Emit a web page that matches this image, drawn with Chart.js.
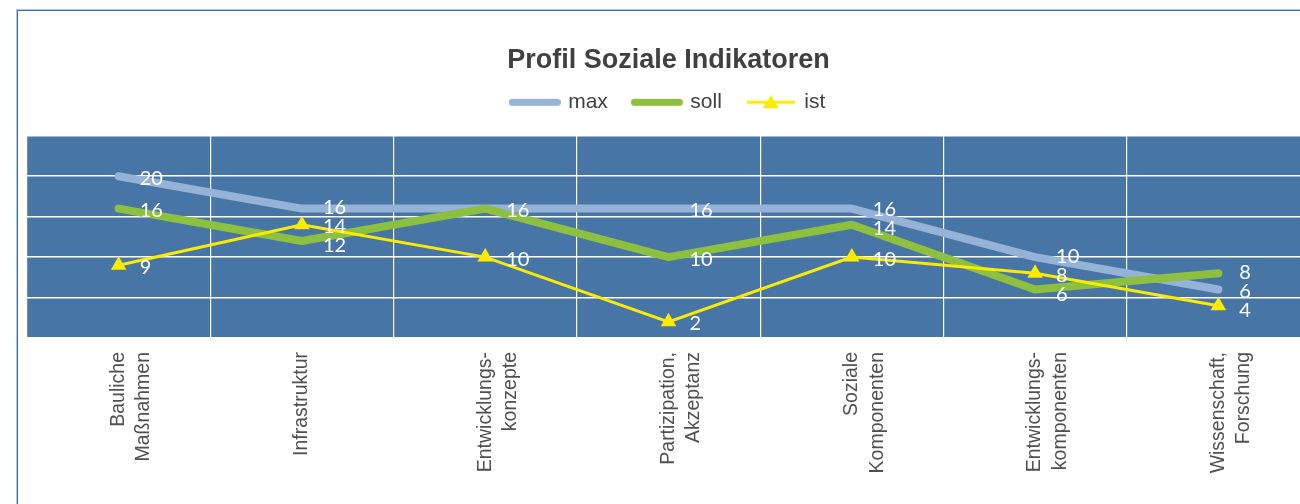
<!DOCTYPE html>
<html>
<head>
<meta charset="utf-8">
<script src="https://cdn.jsdelivr.net/npm/chart.js@4.4.0/dist/chart.umd.min.js"></script>
<style>
  html, body { margin: 0; padding: 0; background: #fff; width: 1300px; height: 504px; overflow: hidden; }
  #frame { position: absolute; left: 16px; top: 9px; width: 1400px; height: 600px; border: 1px solid #b3c8e2; }
  #frame div { position: absolute; inset: 0; border: 1.5px solid #3d6ba3; }
  #chart { position: absolute; left: 0; top: 0; }
</style>
</head>
<body>
<div id="frame"><div></div></div>
<canvas id="chart" width="1330" height="504"></canvas>
<script>
// Profil Soziale Indikatoren – max / soll / ist per indicator group.
const CATEGORIES = [
  ["Bauliche", "Maßnahmen"],
  "Infrastruktur",
  ["Entwicklungs-", "konzepte"],
  ["Partizipation,", "Akzeptanz"],
  ["Soziale", "Komponenten"],
  ["Entwicklungs-", "komponenten"],
  ["Wissenschaft,", "Forschung"],
];
const MAX  = [20, 16, 16, 16, 16, 10, 6];
const SOLL = [16, 12, 16, 10, 14, 6, 8];
const IST  = [9, 14, 10, 2, 10, 8, 4];
const Y_MIN = 0, Y_MAX = 25, Y_STEP = 5;

const C_MAX = "#95b3d7", C_SOLL = "#8cc03e", C_IST = "#fbeb00";
const PLOT_BG = "#4775a5";
const FONT = "'Liberation Sans', Arial, sans-serif";

// Legend swatches: a thick rounded line, or a thin line with a triangle marker.
function swatch(color, w, lw, triangle) {
  const h = triangle ? 14 : lw + 2;
  const c = document.createElement("canvas");
  c.width = w; c.height = h;
  const g = c.getContext("2d");
  g.strokeStyle = color;
  g.lineWidth = lw;
  g.lineCap = triangle ? "butt" : "round";
  g.beginPath();
  g.moveTo(triangle ? 0 : lw / 2, h / 2);
  g.lineTo(triangle ? w : w - lw / 2, h / 2);
  g.stroke();
  if (triangle) {
    g.fillStyle = color;
    g.beginPath();
    g.moveTo(w / 2, 0);
    g.lineTo(w / 2 + 8, 13);
    g.lineTo(w / 2 - 8, 13);
    g.closePath();
    g.fill();
  }
  return c;
}
const SWATCHES = [swatch(C_MAX, 52, 7), swatch(C_SOLL, 52, 7), swatch(C_IST, 48, 3, true)];

const plotBg = {
  id: "plotBg",
  beforeDraw(chart) {
    const { ctx, chartArea: a } = chart;
    ctx.save();
    ctx.fillStyle = PLOT_BG;
    ctx.fillRect(a.left, a.top, a.right - a.left, a.bottom - a.top);
    ctx.restore();
  },
};

// White value labels right of each point; equal values merge, close ones get spread apart.
const valueLabels = {
  id: "valueLabels",
  afterDatasetsDraw(chart) {
    const ctx = chart.ctx;
    const byIndex = [];
    chart.data.datasets.forEach((ds, di) => {
      chart.getDatasetMeta(di).data.forEach((pt, i) => {
        const list = byIndex[i] || (byIndex[i] = []);
        if (list.some((l) => l.v === ds.data[i])) return;
        list.push({ v: ds.data[i], x: pt.x, y: pt.y });
      });
    });
    const MIN_GAP = 19;
    ctx.save();
    ctx.fillStyle = "#ffffff";
    ctx.font = "20px Lato, 'Open Sans', sans-serif";
    ctx.textAlign = "left";
    ctx.textBaseline = "middle";
    byIndex.forEach((list) => {
      list.sort((a, b) => a.y - b.y);
      for (let k = 0; k < 20; k++) {
        for (let j = 1; j < list.length; j++) {
          const gap = list[j].y - list[j - 1].y;
          if (gap < MIN_GAP) {
            const d = (MIN_GAP - gap) / 2;
            list[j].y += d;
            list[j - 1].y -= d;
          }
        }
      }
      list.forEach((l) => ctx.fillText(String(l.v), l.x + 21, l.y + 2));
    });
    ctx.restore();
  },
};

new Chart(document.getElementById("chart"), {
  type: "line",
  data: {
    labels: CATEGORIES,
    datasets: [
      { label: "max", data: MAX, borderColor: C_MAX, borderWidth: 8, pointRadius: 0,
        borderCapStyle: "round", borderJoinStyle: "round", order: 3 },
      { label: "soll", data: SOLL, borderColor: C_SOLL, borderWidth: 8, pointRadius: 0,
        borderCapStyle: "round", borderJoinStyle: "round", order: 2 },
      { label: "ist", data: IST, borderColor: C_IST, borderWidth: 3, pointStyle: "triangle",
        pointRadius: 9, pointBackgroundColor: C_IST, pointBorderColor: C_IST, pointBorderWidth: 0,
        order: 1 },
    ],
  },
  options: {
    responsive: false,
    animation: false,
    layout: { padding: { left: 27, right: 20, top: 0, bottom: 0 } },
    plugins: {
      title: {
        display: true,
        text: "Profil Soziale Indikatoren",
        color: "#404040",
        font: { family: FONT, size: 27, weight: "bold", lineHeight: 0.4 },
        padding: { top: 55, bottom: 0 },
      },
      legend: {
        labels: {
          usePointStyle: true,
          pointStyleWidth: 46,
          padding: 26,
          color: "#404040",
          font: { family: FONT, size: 21 },
          generateLabels: (chart) => chart.data.datasets.map((ds, i) => ({
            text: ds.label, pointStyle: SWATCHES[i], fontColor: "#404040",
            fillStyle: "transparent", strokeStyle: "transparent", lineWidth: 0,
            hidden: false, datasetIndex: i,
          })),
        },
      },
      tooltip: { enabled: false },
    },
    scales: {
      x: {
        offset: true,
        grid: { offset: true, color: "#ffffff", lineWidth: 1.2, drawTicks: false },
        border: { display: false },
        ticks: {
          color: "#505050",
          font: { family: FONT, size: 19.5, lineHeight: 1.3 },
          padding: 14,
          autoSkip: false,
          minRotation: 90,
          maxRotation: 90,
        },
        afterFit: (s) => { s.height = 166; },
      },
      // empty top axis: only keeps a gap between legend and plot
      gap: {
        type: "category",
        position: "top",
        grid: { display: false, drawTicks: false },
        border: { display: false },
        ticks: { display: false },
        afterFit: (s) => { s.height = 13; },
      },
      y: {
        min: Y_MIN,
        max: Y_MAX,
        ticks: { stepSize: Y_STEP, display: false },
        grid: { color: "#ffffff", lineWidth: 1.5, drawTicks: false },
        border: { display: false },
        afterFit: (s) => { s.width = 0; },
      },
    },
  },
  plugins: [plotBg, valueLabels],
});
</script>
</body>
</html>
